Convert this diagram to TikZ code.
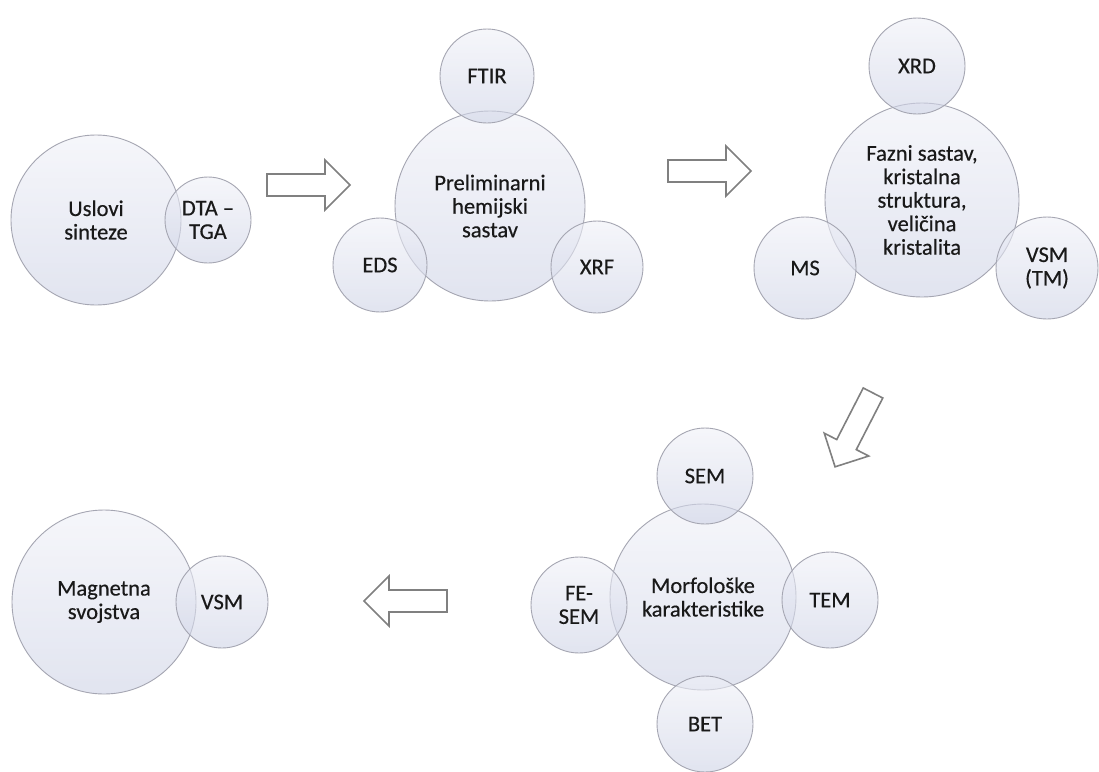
\documentclass[tikz,border=0pt]{standalone}
\usepackage{fontspec}
\setmainfont{Carlito}
\newfontfamily\bubfont[FakeBold=0.4,Ligatures=TeX]{Carlito}
\definecolor{ringline}{RGB}{165,166,178}
\definecolor{topfill}{RGB}{240,241,248}
\definecolor{botfill}{RGB}{206,211,230}
\definecolor{arrowgray}{RGB}{128,128,128}
\definecolor{txt}{RGB}{25,25,25}
\begin{document}
\begin{tikzpicture}[x=1pt,y=-1pt,
  bub/.style={circle, draw=ringline, line width=0.9pt, top color=topfill, bottom color=botfill,
    fill opacity=0.6, text opacity=1, inner sep=0pt, align=center, text=txt,
    font=\bubfont\fontsize{22.5}{23.5}\selectfont},
  arrowline/.style={draw=arrowgray, line width=1.6pt, fill=white, line join=miter},
  fatarrow/.pic={\path[arrowline] (0,-11) -- (58,-11) -- (58,-25) -- (83,0) -- (58,25) -- (58,11) -- (0,11) -- cycle;}
]
\useasboundingbox (0,0) rectangle (1099,771);
\fill[white] (0,0) rectangle (1099,771);

% group 1
\node[bub, minimum size=170pt] (uslovi) at (96,220) {Uslovi\\sinteze};
\node[bub, minimum size=86pt] (dta) at (208,220) {DTA –\\TGA};

% arrow 1
\pic at (267,185) {fatarrow};

% group 2
\node[bub, minimum size=190pt] (prelim) at (490,206) {Preliminarni\\hemijski\\sastav};
\node[bub, minimum size=94pt] (ftir) at (487,76) {FTIR};
\node[bub, minimum size=94pt] (eds) at (380,265) {EDS};
\node[bub, minimum size=92pt] (xrf) at (597,267) {XRF};

% arrow 2
\pic at (668,171) {fatarrow};

% group 3
\node[bub, minimum size=194pt] (fazni) at (922,200) {Fazni sastav,\\kristalna\\struktura,\\veličina\\kristalita};
\node[bub, minimum size=96pt] (xrd) at (917,66) {XRD};
\node[bub, minimum size=102pt] (ms) at (805,268) {MS};
\node[bub, minimum size=102pt] (vsmtm) at (1047,268) {VSM\\(TM)};

% arrow 3
\pic[rotate=242.8] at (873,393) {fatarrow};

% group 4
\node[bub, minimum size=186pt] (morf) at (703,597) {Morfološke\\karakteristike};
\node[bub, minimum size=96pt] (sem) at (705,476) {SEM};
\node[bub, minimum size=96pt] (fesem) at (579,605) {FE-\\SEM};
\node[bub, minimum size=96pt] (tem) at (830,600) {TEM};
\node[bub, minimum size=96pt] (bet) at (705,724) {BET};

% arrow 4
\pic[rotate=180] at (447,601) {fatarrow};

% group 5
\node[bub, minimum size=184pt] (magn) at (104,602) {Magnetna\\svojstva};
\node[bub, minimum size=92pt] (vsm) at (222,602) {VSM};
\end{tikzpicture}
\end{document}
